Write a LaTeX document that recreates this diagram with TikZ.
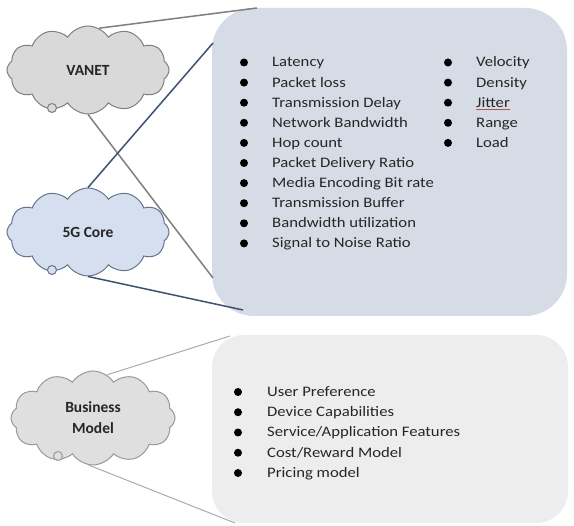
\documentclass[tikz,border=0pt]{standalone}
\usepackage{fontspec}
\setmainfont{Carlito}
\newfontfamily\listfont[FakeStretch=1.15]{Carlito}
\usetikzlibrary{shapes.symbols}
\definecolor{boxblue}{HTML}{D6DCE5}
\definecolor{boxgray}{HTML}{EDEDED}
\definecolor{cloudgray}{HTML}{D9D9D9}
\definecolor{cloudblue}{HTML}{D5DFEF}
\definecolor{lineblue}{HTML}{3D5170}
\definecolor{linegray}{HTML}{7F7F7F}
\definecolor{linelight}{HTML}{ABABAB}
\definecolor{txt}{HTML}{262626}
\begin{document}
\begin{tikzpicture}[x=1pt,y=-1pt,
  cloudnode/.style={cloud, cloud puffs=12, cloud puff arc=115, aspect=1.9, minimum width=162pt, minimum height=88pt, inner sep=0pt, line width=1pt, font=\bfseries\fontsize{15.5}{21}\selectfont, text=txt, align=center},
  tail/.style={circle, minimum size=9pt, inner sep=0pt, line width=1pt},
  item/.style={anchor=base west, inner sep=0pt, font=\listfont\fontsize{14.5}{17}\selectfont, text=txt},
  dot/.style={circle, fill=black, minimum size=8pt, inner sep=0pt},
  panel/.style={inner sep=0pt, draw=none}
]
\useasboundingbox[fill=white] (0,0) rectangle (574,526);
\node[panel, fill=boxblue, rounded corners=42pt, minimum width=355pt, minimum height=308pt] (top) at (389.5,162) {};
\node[panel, fill=boxgray, rounded corners=32pt, minimum width=356pt, minimum height=188pt] (bottom) at (390,429) {};

\node[cloudnode, fill=cloudgray, draw=linegray] (vanet) at (88,70) {VANET};
\node[tail, fill=cloudgray, draw=linegray] (vtail) at (52,108) {};
\node[cloudnode, fill=cloudblue, draw=lineblue!80] (core) at (88,232) {5G Core};
\node[tail, fill=cloudblue, draw=lineblue!80] (ctail) at (52,270) {};
\node[cloudnode, fill=cloudgray!85, draw=linegray!80, minimum width=164pt, minimum height=94pt] (biz) at (93,418) {Business\\Model};
\node[tail, fill=cloudgray!85, draw=linegray!80] (btail) at (58,456) {};

\coordinate (t1) at (257,8);
\coordinate (t2) at (213,43);
\coordinate (t3) at (213,278);
\coordinate (t4) at (243,310);
\coordinate (b1) at (230,336);
\coordinate (b2) at (235,523);

\draw[linegray, line width=1.5pt] (vanet.75) -- (t1);
\draw[linegray, line width=1.5pt] (vanet.south) -- (t3);
\draw[lineblue, line width=1.5pt] (core.north) -- (t2);
\draw[lineblue, line width=1.5pt] (core.south) -- (t4);
\draw[linelight, line width=1pt] (biz.72) -- (b1);
\draw[linelight, line width=1pt] (biz.265) -- (b2);

\foreach \t [count=\i] in {Latency,Packet loss,Transmission Delay,Network Bandwidth,Hop count,Packet Delivery Ratio,Media Encoding Bit rate,Transmission Buffer,Bandwidth utilization,Signal to Noise Ratio} {
  \node[dot] (da\i) at (244, 42.4+20.1*\i) {};
  \node[item] (ta\i) at (272, 46.9+20.1*\i) {\t};
}
\foreach \t [count=\i] in {Velocity,Density,Jitter,Range,Load} {
  \node[dot] (db\i) at (448, 42.4+20.1*\i) {};
  \node[item] (tb\i) at (476, 46.9+20.1*\i) {\t};
}
\draw[red!35!gray, line width=0.6pt] ([yshift=-2pt]tb3.base west) -- ([yshift=-2pt]tb3.base east);
\foreach \t [count=\i] in {User Preference,Device Capabilities,Service/Application Features,Cost/Reward Model,Pricing model} {
  \node[dot] (dc\i) at (238, 371.75+20.25*\i) {};
  \node[item] (tc\i) at (267, 376.25+20.25*\i) {\t};
}
\end{tikzpicture}
\end{document}
